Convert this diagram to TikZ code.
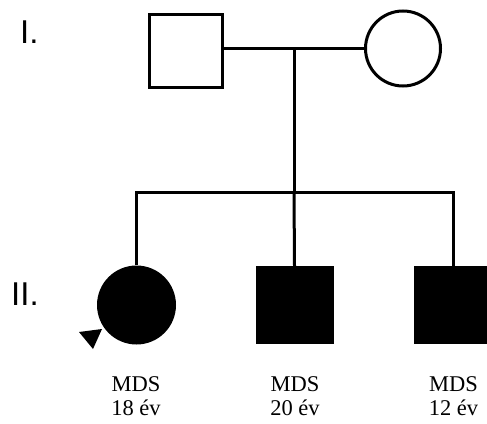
\documentclass[tikz,border=0pt]{standalone}
\usepackage{fontspec}
\setmainfont{Liberation Serif}
\newfontfamily\labfont{Liberation Sans}
\begin{document}
\begin{tikzpicture}[x=1pt,y=-1pt,
  lw/.style={line width=3pt},
  malebox/.style={rectangle,draw,lw,minimum size=73pt,inner sep=0pt},
  femcirc/.style={circle,draw,lw,minimum size=75pt,inner sep=0pt},
  affmale/.style={rectangle,fill=black,minimum size=78pt,inner sep=0pt},
  afffem/.style={circle,fill=black,minimum size=79pt,inner sep=0pt},
  genlab/.style={font=\labfont\fontsize{33}{36}\selectfont,inner sep=0pt,anchor=base west},
  info/.style={font=\fontsize{22.5}{24.5}\selectfont,align=center,inner sep=0pt,anchor=north}]
\useasboundingbox[clip] (0,0) rectangle (487,423);
\fill[white] (0,0) rectangle (487,423);
% generation labels
\node[genlab] (g1) at (20,43) {I.};
\node[genlab] (g2) at (11,305) {II.};
% parents
\node[malebox] (f) at (186,50.5) {};
\node[femcirc] (m) at (403,48.5) {};
\coordinate (mid) at (294,48);
\coordinate (sib) at (294,192);
\draw[lw] (f.east |- mid) -- (m.west |- mid);
\draw[lw] (mid) -- (sib);
% children
\node[afffem] (c1) at (136.5,305) {};
\node[affmale] (c2) at (294.5,305) {};
\node[affmale] (c3) at (453,305) {};
\coordinate (sl) at (136.5,192);
\coordinate (sr) at (453,192);
\draw[lw] (c1.north) -- (sl) -- (sr) -- (c3.north);
\draw[lw] (sib) -- (c2.north);
% proband arrow
\fill (79,332) -- (102,329) -- (93,349) -- cycle;
% info texts
\node[info] (t1) at (136,376) {MDS\\18 év};
\node[info] (t2) at (295,376) {MDS\\20 év};
\node[info] (t3) at (453.5,376) {MDS\\12 év};
\end{tikzpicture}
\end{document}
